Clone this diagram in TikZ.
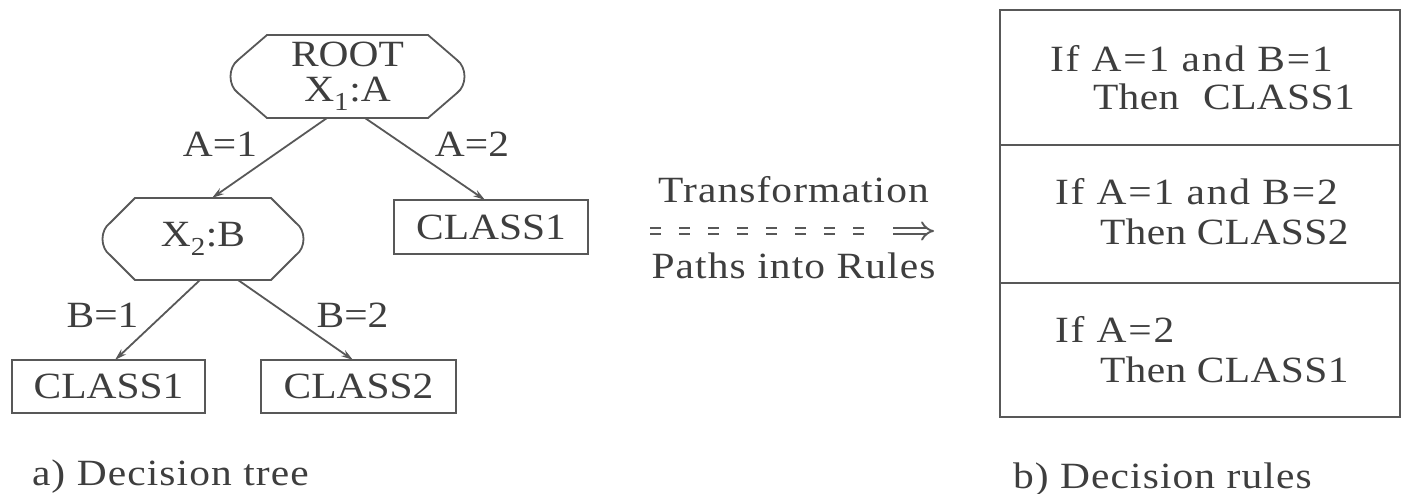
\documentclass[tikz,border=0pt]{standalone}
\usepackage{fontspec}
\setmainfont{Liberation Serif}[FakeStretch=1.12]
\usetikzlibrary{arrows.meta,calc}
\definecolor{ink}{RGB}{62,62,62}
\definecolor{edgecol}{RGB}{88,88,88}
\tikzset{
  txt/.style={font=\fontsize{37}{44}\selectfont, text=ink, inner sep=0pt, outer sep=0pt},
  wtxt/.style={txt, font=\fontsize{37}{44}\selectfont\addfontfeatures{LetterSpace=3}},
  rtxt/.style={txt, font=\fontsize{37}{44}\selectfont\addfontfeatures{LetterSpace=5}},
  ttxt/.style={txt, font=\fontsize{37}{44}\selectfont\addfontfeatures{LetterSpace=1}},
  ln/.style={draw=edgecol, line width=1.8pt},
  arr/.style={ln, -{Stealth[length=12pt,width=7pt]}},
  box/.style={ln, rectangle, inner sep=0pt, outer sep=0pt, font=\fontsize{37}{44}\selectfont, text=ink},
  octbox/.style={rectangle, inner sep=0pt, outer sep=0pt, align=center, font=\fontsize{37}{35}\selectfont, text=ink},
  dbl/.style={draw=edgecol, line width=1.9pt, double=white, double distance=4.6pt},
}
\newcommand\octshape[2]{%
  \draw[ln] ($(#1.north west)+(#2,0)$) -- ($(#1.north east)+(-#2,0)$)
    -- ($(#1.north east)+(-8,25)$)
    .. controls ($(#1.east)+(2,-9)$) and ($(#1.east)+(2,9)$) .. ($(#1.south east)+(-8,-25)$)
    -- ($(#1.south east)+(-#2,0)$) -- ($(#1.south west)+(#2,0)$)
    -- ($(#1.south west)+(8,-25)$)
    .. controls ($(#1.west)+(-2,9)$) and ($(#1.west)+(-2,-9)$) .. ($(#1.north west)+(8,25)$)
    -- cycle;}
\begin{document}
\begin{tikzpicture}[x=1pt,y=-1pt]
\useasboundingbox (0,0) rectangle (1402,494);
\fill[white] (0,0) rectangle (1402,494);

% tree nodes
\node[octbox, minimum width=235pt, minimum height=83pt] (root) at (347.5,76.5) {ROOT\\X\textsubscript{1}:A};
\octshape{root}{37}
\node[octbox, minimum width=202pt, minimum height=82pt] (x2) at (203,239) {X\textsubscript{2}:B};
\octshape{x2}{33}
\node[box, draw, minimum width=194pt, minimum height=54pt] (c1r) at (491,227) {CLASS1};
\node[box, draw, minimum width=193pt, minimum height=53pt] (c1l) at (108.5,386.5) {CLASS1};
\node[box, draw, minimum width=195pt, minimum height=53pt] (c2) at (358.5,386.5) {CLASS2};

% edges
\draw[arr] ([xshift=-20.5pt]root.south) -- ([xshift=9pt]x2.north);
\draw[arr] ([xshift=17.5pt]root.south) -- ([xshift=-6pt]c1r.north);
\draw[arr] ([xshift=-3pt]x2.south) -- ([xshift=6.5pt]c1l.north);
\draw[arr] ([xshift=35pt]x2.south) -- ([xshift=-5.5pt]c2.north);

% edge labels
\node[txt, anchor=base] (la1) at (220,157) {A=1};
\node[txt, anchor=base] (la2) at (472,157) {A=2};
\node[txt, anchor=base] (lb1) at (102.5,327) {B=1};
\node[txt, anchor=base] (lb2) at (352.5,327) {B=2};

% caption a
\node[wtxt, anchor=base west] (capa) at (32,485) {a) Decision tree};

% transformation arrow
\node[wtxt, anchor=base] (tf) at (793.5,203) {Transformation};
\node[wtxt, anchor=base] (pr) at (793.5,278) {Paths into Rules};
\coordinate (ts) at (650,231);
\coordinate (tm) at (864,231);
\coordinate (ta) at (893,231);
\coordinate (te) at (934,231);
\draw[dbl, dash pattern=on 11pt off 18pt] (ts) -- (tm);
\draw[dbl, -{Implies[scale=1.1]}] (ta) -- (te);

% rules table
\node[box, draw, minimum width=400pt, minimum height=135pt] (rb1) at (1200,77.5) {};
\node[box, draw, minimum width=400pt, minimum height=138pt] (rb2) at (1200,214) {};
\node[box, draw, minimum width=400pt, minimum height=134pt] (rb3) at (1200,350) {};
\node[rtxt, anchor=base west] (r1a) at (1050,72) {If A=1 and B=1};
\node[ttxt, anchor=base west] (r1b) at (1093,110) {Then\hspace{24pt}CLASS1};
\node[rtxt, anchor=base west] (r2a) at (1055,205) {If A=1 and B=2};
\node[ttxt, anchor=base west] (r2b) at (1100,245) {Then CLASS2};
\node[rtxt, anchor=base west] (r3a) at (1055,342) {If A=2};
\node[ttxt, anchor=base west] (r3b) at (1100,382) {Then CLASS1};
\node[wtxt, anchor=base west] (capb) at (1013,488) {b) Decision rules};
\end{tikzpicture}
\end{document}
